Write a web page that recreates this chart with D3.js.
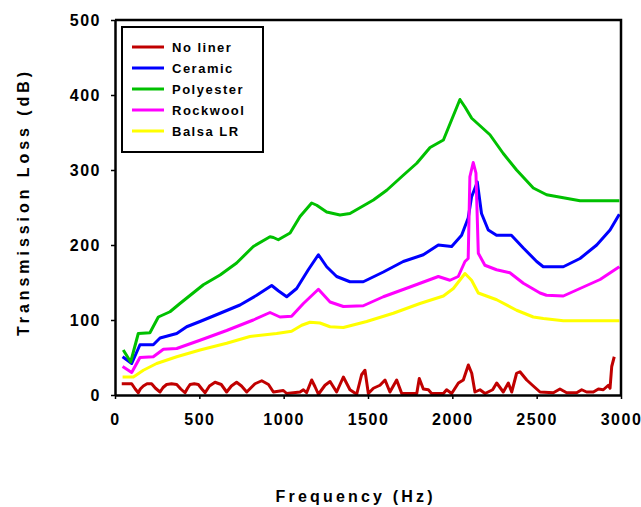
<!DOCTYPE html>
<html>
<head>
<meta charset="utf-8">
<script src="https://cdn.jsdelivr.net/npm/d3@7"></script>
<style>
  html, body { margin: 0; padding: 0; background: #ffffff; }
  svg { display: block; }
  .tick text { font-family: "Liberation Sans", Arial, sans-serif; font-weight: bold; font-size: 16px; letter-spacing: 1.5px; fill: #000; }
  .title { font-family: "Liberation Sans", Arial, sans-serif; font-weight: bold; fill: #000; }
  .legend text { font-family: "Liberation Sans", Arial, sans-serif; font-weight: bold; font-size: 13px; letter-spacing: 1.5px; fill: #000; }
</style>
</head>
<body>
<svg id="chart" width="641" height="507"></svg>
<script>
// Transmission loss measurements per liner (frequency in Hz, loss in dB)
const noLinerHz = [40,99,120,138,150,168,190,217,240,267,285,306,335,366,390,415,430,445,470,494,515,534,560,593,630,662,690,721,750,781,830,870,910,939,998,1018,1097,1117,1136,1166,1186,1206,1245,1275,1314,1354,1393,1433,1462,1482,1502,1532,1571,1601,1630,1670,1700,1789,1804,1828,1858,1877,1947,1966,1996,2036,2065,2095,2115,2134,2164,2194,2239,2263,2302,2332,2352,2381,2401,2441,2480,2520,2599,2638,2678,2737,2767,2796,2836,2866,2895,2925,2935,2945,2960];
const noLinerDb = [15,15,8,3,8,12,15,15,9,4,10,14,15,14,8,3,9,14,15,14,8,3,12,17,14,4,12,17,12,4,15,19,14,4,6,2,4,7,3,20,11,1,13,18,4,24,7,1,27,33,2,9,13,20,4,20,2,2,22,8,7,2,2,7,2,16,20,40,29,4,7,2,7,16,4,16,4,29,31,20,12,4,3,8,3,3,7,4,4,8,7,13,9,38,51];

const ceramicHz = [45,99,148,227,267,366,425,504,623,741,840,929,968,1018,1077,1146,1206,1255,1314,1393,1472,1591,1709,1828,1917,1996,2055,2094,2114,2148,2173,2213,2262,2350,2421,2500,2539,2658,2757,2856,2935,2990];
const ceramicDb = [51,42,67,67,76,82,91,98,109,120,133,146,139,131,142,167,187,171,158,151,151,164,178,187,200,198,213,236,264,284,242,220,213,213,196,178,171,171,182,200,220,241];

const polyesterHz = [49,93,138,207,257,326,385,524,623,721,820,919,939,968,1038,1097,1166,1196,1255,1334,1393,1532,1611,1709,1789,1868,1947,1996,2045,2075,2115,2223,2302,2381,2480,2559,2658,2757,2990];
const polyesterDb = [60,44,82,83,104,111,122,147,160,176,198,211,210,207,216,238,256,253,244,240,242,260,273,293,309,330,340,367,394,384,369,347,322,300,276,267,263,259,259];

const rockwoolHz = [45,99,148,227,287,366,504,662,820,919,978,1047,1117,1206,1275,1354,1472,1591,1749,1917,1986,2035,2075,2094,2104,2124,2140,2154,2193,2262,2341,2421,2520,2558,2658,2757,2876,2990];
const rockwoolDb = [38,30,50,51,61,62,73,86,100,110,104,105,122,141,124,118,119,131,144,158,153,158,178,182,291,310,296,189,173,167,163,149,136,133,132,142,154,171];

const balsaHz = [45,109,168,247,366,504,662,800,958,1047,1107,1156,1215,1275,1354,1492,1650,1808,1947,2006,2075,2114,2154,2263,2381,2480,2540,2658,2990];
const balsaDb = [24,24,33,42,51,60,69,78,82,85,93,97,96,91,90,98,109,122,132,142,162,153,136,127,113,104,102,99,99];

const seriesNames = ["No liner", "Ceramic", "Polyester", "Rockwool", "Balsa LR"];
const seriesColors = ["#c00000", "#0000ff", "#00c000", "#ff00ff", "#ffff00"];
const seriesHz = [noLinerHz, ceramicHz, polyesterHz, rockwoolHz, balsaHz];
const seriesDb = [noLinerDb, ceramicDb, polyesterDb, rockwoolDb, balsaDb];

const xTicks = [0, 500, 1000, 1500, 2000, 2500, 3000];
const yTicks = [0, 100, 200, 300, 400, 500];

const svg = d3.select("#chart");
const plotLeft = 115, plotRight = 621, plotTop = 20, plotBottom = 395;

const x = d3.scaleLinear().domain([0, 3000]).range([plotLeft, plotRight]);
const y = d3.scaleLinear().domain([0, 500]).range([plotBottom, plotTop]);

// Data lines
const line = d3.line().x(d => x(d[0])).y(d => y(d[1]));
const plot = svg.append("g");
seriesNames.forEach((name, i) => {
  const pts = seriesHz[i].map((f, j) => [f, seriesDb[i][j]]);
  plot.append("path")
    .datum(pts)
    .attr("fill", "none")
    .attr("stroke", seriesColors[i])
    .attr("stroke-width", 3)
    .attr("stroke-linejoin", "round")
    .attr("d", line);
});

// Frame on top and right
svg.append("path")
  .attr("d", `M${plotLeft},${plotTop}H${plotRight}V${plotBottom}`)
  .attr("fill", "none").attr("stroke", "#000").attr("stroke-width", 2.5);

// Axes
const fmt = d3.format("d");
const xAxis = svg.append("g")
  .attr("transform", `translate(0,${plotBottom})`)
  .call(d3.axisBottom(x).tickValues(xTicks).tickFormat(fmt).tickSize(4).tickSizeOuter(0).tickPadding(15));
const yAxis = svg.append("g")
  .attr("transform", `translate(${plotLeft},0)`)
  .call(d3.axisLeft(y).tickValues(yTicks).tickFormat(fmt).tickSize(4).tickSizeOuter(0).tickPadding(10));
[xAxis, yAxis].forEach(g => {
  g.select(".domain").attr("stroke", "#000").attr("stroke-width", 2.5);
  g.selectAll(".tick line").attr("stroke", "#000").attr("stroke-width", 1.5);
  g.attr("font-family", null).attr("font-size", null);
});
yAxis.selectAll(".tick text").attr("dy", "0.36em");

// Axis titles
svg.append("text").attr("class", "title")
  .attr("x", 354).attr("y", 502)
  .attr("text-anchor", "middle")
  .attr("font-size", 16)
  .attr("textLength", 157).attr("lengthAdjust", "spacing")
  .text("Frequency (Hz)");

svg.append("text").attr("class", "title")
  .attr("transform", "translate(29,204) rotate(-90)")
  .attr("text-anchor", "middle")
  .attr("font-size", 16)
  .attr("textLength", 264).attr("lengthAdjust", "spacing")
  .text("Transmission Loss (dB)");

// Legend
const legend = svg.append("g").attr("class", "legend");
legend.append("rect")
  .attr("x", 122).attr("y", 27).attr("width", 141).attr("height", 125)
  .attr("fill", "#fff").attr("stroke", "#000").attr("stroke-width", 2);
seriesNames.forEach((name, i) => {
  const ly = 47 + i * 21;
  legend.append("line")
    .attr("x1", 132).attr("x2", 164).attr("y1", ly).attr("y2", ly)
    .attr("stroke", seriesColors[i]).attr("stroke-width", 3);
  legend.append("text")
    .attr("x", 172).attr("y", ly).attr("dy", "0.36em")
    .text(name);
});
</script>
</body>
</html>
